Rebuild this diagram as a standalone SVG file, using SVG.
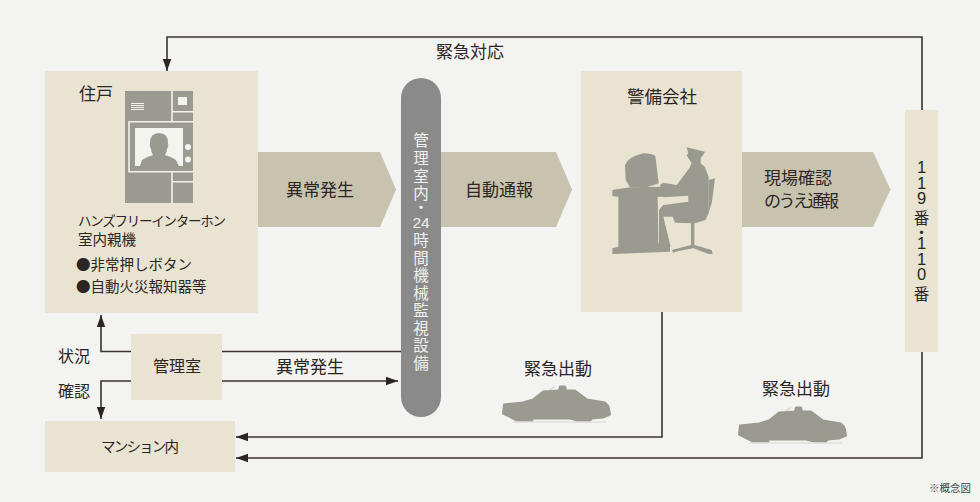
<svg xmlns="http://www.w3.org/2000/svg" width="980" height="502" viewBox="0 0 980 502">
<style>
text{font-family:"Noto Sans CJK JP","Liberation Sans",sans-serif;fill:#2b2523;font-size:17px}
.box{fill:#e9e3d2}
.flow{fill:#c8c3af}
.sil{fill:#9a9a90}
.rnd{stroke:#9a9a90;stroke-width:2;stroke-linejoin:round}
.w{fill:#f3f3f0}
.wl{stroke:#f3f1e8;stroke-width:1.6;fill:none}
.ln{fill:none;stroke:#3a3230;stroke-width:1.6}
.v{font-size:15.500px;writing-mode:vertical-rl;text-orientation:upright}
.lite{fill:#f0f0ee}
.num{font-family:"Liberation Sans","Noto Sans CJK JP",sans-serif;font-size:16.500px}
</style>
<defs>
<marker id="a" markerUnits="userSpaceOnUse" markerWidth="13" markerHeight="10" refX="12" refY="5" orient="auto"><path d="M0,0.800 L12,5 L0,9.200 Z" fill="#2b2523"/></marker>
<g id="car"><path class="sil rnd" stroke-width="1" d="M3,19 L22,17 L32,14 L42,6 L58,5 L59,1 L64,1 L65,5 L74,5 L86,14 L104,17 Q107,19 108,23 L109,29 L102,32 L91,33 L89,35 L77,35 L69,33 L32,33 L31,35 L16,35 L12,33 L2,28 Z"/><path d="M46,6 L54,1" stroke="#b5b5ab" stroke-width="0.6"/><path d="M12,36.500 H105" stroke="#d8d8d0" stroke-width="1"/></g>
</defs>
<rect width="980" height="502" fill="#f3f3f1"/>

<g id="connectors">
<path class="ln" marker-end="url(#a)" d="M922,110 V37 H167 V71"/>
<path class="ln" marker-end="url(#a)" d="M662,312 V437 H236"/>
<path class="ln" marker-end="url(#a)" d="M922,352 V458 H236"/>
<path class="ln" marker-end="url(#a)" d="M131,351.500 H101 V315"/>
<path class="ln" marker-end="url(#a)" d="M131,381 H101 V419"/>
<path class="ln" d="M222,351.500 H401"/>
<path class="ln" marker-end="url(#a)" d="M222,381 H398"/>
</g>

<g id="arrow-alarm"><path class="flow" d="M258,152 H380 L396,189.500 L380,227 H258 Z"/><text x="286" y="196">異常発生</text></g>
<g id="arrow-auto"><path class="flow" d="M441,152 H556 L572,189.500 L556,227 H441 Z"/><text x="465" y="196">自動通報</text></g>
<g id="arrow-confirm"><path class="flow" d="M742,152 H873 L890.500,189.500 L873,227 H742 Z"/><text x="764" y="184">現場確認</text><text x="764" y="207" textLength="75">のうえ通報</text></g>

<g id="residence">
<rect class="box" x="45" y="71" width="213" height="242"/>
<text x="79" y="100">住戸</text>
<rect class="sil" x="125" y="91" width="68" height="112"/>
<path class="wl" d="M172,91 V122 M172,111.700 H193 M172,172 V203 M172,181.700 H193 M193,121.700 H129 V171.700 H193"/>
<rect class="w" x="135" y="128" width="48" height="38"/>
<path class="sil" d="M140,166 L142,160 Q146,157 153,155 Q151,152 151,149 Q149,146 150,143 Q150,133 159,133 Q168,133 168,143 Q169,146 167,149 Q167,152 165,155 Q172,157 176,160 L179,166 Z"/>
<circle class="w" cx="188" cy="147" r="3"/><circle class="w" cx="188" cy="159.500" r="3"/>
<rect class="w" x="178" y="97" width="9" height="8"/>
<path stroke="#f3f1e8" stroke-width="1" d="M131,103.500 H144 M131,105.500 H144 M131,107.500 H144 M131,109.500 H144"/>
<text x="78" y="226" style="font-size:13.500px" textLength="148">ハンズフリーインターホン</text>
<text x="78" y="245" style="font-size:14.500px">室内親機</text>
<text x="76" y="270" style="font-size:14.500px">●非常押しボタン</text>
<text x="76" y="292" style="font-size:14.500px">●自動火災報知器等</text>
</g>

<g id="monitor-equipment">
<rect x="401" y="78" width="40" height="339" rx="20" fill="#8a8a8a"/>
<text class="lite v" x="421" y="132.300" letter-spacing="2.300">管理室内</text>
<text class="lite v" x="421" y="199.300">・</text>
<text class="lite num" x="421" y="228" text-anchor="middle" style="font-size:15.500px">24</text>
<text class="lite v" x="421" y="232.300" letter-spacing="2.070">時間機械監視設備</text>
</g>

<g id="security-company">
<rect class="box" x="581" y="71" width="161" height="241"/>
<text x="627" y="103" style="font-size:17.500px">警備会社</text>
<g transform="translate(580,130) scale(0.3333)">
<path class="sil" d="M135,105 Q145,80 190,70 Q215,70 226,78 L236,160 L200,172 L150,172 L137,150 Z"/>
<path class="sil" d="M97,180 L150,172 L245,170 L250,200 L233,200 L235,340 L270,348 L270,365 L97,372 L97,355 L115,350 L115,200 L97,198 Z"/>
<path class="sil" d="M320,52 L375,65 L367,78 L362,84 L362,100 L374,110 L386,140 L386,250 L376,270 L345,280 L285,278 L278,260 L250,260 L272,350 L237,345 L237,240 L250,225 L325,215 L325,197 L250,202 L240,165 L250,158 L290,165 L328,115 L335,100 L325,84 L320,76 L325,70 Z"/>
<path class="sil" d="M386,150 L405,145 L396,215 L386,250 Z"/>
<path class="sil" d="M333,278 L343,278 L343,345 L395,360 L398,372 L386,372 L340,355 L292,364 L280,368 L275,360 L333,345 Z"/>
</g>
</g>

<g id="emergency-numbers">
<rect class="box" x="905" y="110" width="33" height="242"/>
<text class="v num" style="font-size:16.500px" x="921.500" y="158" letter-spacing="-2.400">119</text>
<text class="v" x="921.500" y="210.500" letter-spacing="-1.500">番・</text>
<text class="v num" style="font-size:16.500px" x="921.500" y="234" letter-spacing="-2.400">110</text>
<text class="v" x="921.500" y="286.500">番</text>
</g>

<g id="manager-room"><rect class="box" x="131" y="334" width="91" height="66"/><text x="153" y="372" style="font-size:16px">管理室</text></g>
<g id="mansion"><rect class="box" x="45" y="421" width="190" height="51"/><text x="101" y="452" style="font-size:14.500px" textLength="78">マンション内</text></g>

<g id="labels">
<text x="436" y="58">緊急対応</text>
<text x="276" y="373">異常発生</text>
<text x="58" y="362" style="font-size:16px">状況</text>
<text x="58" y="397" style="font-size:16px">確認</text>
<text x="524" y="375">緊急出動</text>
<text x="762" y="395">緊急出動</text>
<text x="929" y="492" style="font-size:10.500px;fill:#444">※概念図</text>
</g>
<g id="car-1"><use href="#car" x="501" y="385.500"/></g>
<g id="car-2"><use href="#car" x="737" y="406.500"/></g>
</svg>
